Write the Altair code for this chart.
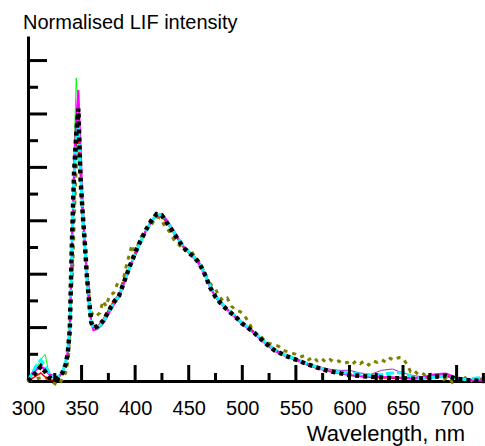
import altair as alt
import pandas as pd

# ---------------- data ----------------
wavelengths = [300, 304, 308, 312, 316, 320, 324, 328, 332, 335, 337, 339, 341, 343, 345,
               347, 349, 351, 353, 355, 357, 359, 361, 365, 370, 375, 380, 385, 390, 395,
               400, 405, 410, 415, 420, 425, 430, 435, 440, 445, 450, 455, 460, 465, 470,
               475, 480, 485, 490, 495, 500, 505, 510, 515, 520, 525, 530, 540, 550, 560,
               570, 580, 590, 600, 610, 620, 630, 640, 650, 660, 670, 680, 690, 700, 710,
               720, 726]

black = [0.0, 0.015, 0.035, 0.055, 0.035, 0.012, 0.007, 0.01, 0.03, 0.06, 0.10, 0.19, 0.52, 0.78, 0.92,
         1.02, 0.76, 0.63, 0.52, 0.39, 0.30, 0.22, 0.20, 0.205, 0.225, 0.26, 0.295, 0.32, 0.375, 0.43,
         0.48, 0.525, 0.565, 0.60, 0.625, 0.62, 0.59, 0.56, 0.53, 0.50, 0.48, 0.465, 0.44, 0.40, 0.35,
         0.315, 0.29, 0.27, 0.253, 0.235, 0.215, 0.20, 0.185, 0.166, 0.147, 0.13, 0.115, 0.095, 0.08, 0.064,
         0.05, 0.038, 0.03, 0.022, 0.019, 0.016, 0.013, 0.011, 0.01, 0.008, 0.01, 0.016, 0.02, 0.008, 0.003,
         0.001, 0.0]

cyan = [0.0, 0.03, 0.06, 0.079, 0.055, 0.03, 0.02, 0.016, 0.03, 0.07, 0.116, 0.20, 0.50, 0.76, 0.90,
        0.95, 0.78, 0.62, 0.51, 0.38, 0.29, 0.22, 0.20, 0.20, 0.22, 0.255, 0.29, 0.32, 0.37, 0.425,
        0.475, 0.52, 0.56, 0.595, 0.625, 0.62, 0.595, 0.565, 0.535, 0.505, 0.485, 0.465, 0.44, 0.40, 0.355,
        0.32, 0.295, 0.272, 0.255, 0.237, 0.218, 0.202, 0.186, 0.168, 0.15, 0.133, 0.118, 0.097, 0.082, 0.066,
        0.052, 0.04, 0.033, 0.03, 0.025, 0.022, 0.025, 0.03, 0.032, 0.012, 0.01, 0.015, 0.018, 0.01, 0.005,
        0.012, 0.01]

magenta = [0.0, 0.03, 0.045, 0.055, 0.045, 0.025, 0.02, 0.016, 0.03, 0.065, 0.11, 0.19, 0.50, 0.80, 0.98,
           1.09, 0.88, 0.66, 0.52, 0.40, 0.30, 0.22, 0.19, 0.195, 0.215, 0.25, 0.285, 0.315, 0.37, 0.425,
           0.475, 0.52, 0.56, 0.595, 0.62, 0.625, 0.60, 0.57, 0.535, 0.505, 0.48, 0.46, 0.435, 0.395, 0.35,
           0.315, 0.29, 0.27, 0.25, 0.232, 0.213, 0.198, 0.182, 0.163, 0.145, 0.128, 0.113, 0.093, 0.078, 0.062,
           0.048, 0.037, 0.03, 0.022, 0.018, 0.015, 0.015, 0.014, 0.012, 0.01, 0.015, 0.025, 0.028, 0.012, 0.006,
           0.004, 0.002]

red = [0.0, 0.01, 0.02, 0.03, 0.015, 0.005, 0.004, 0.01, 0.03, 0.06, 0.10, 0.19, 0.50, 0.74, 0.88,
       0.93, 0.76, 0.62, 0.51, 0.38, 0.29, 0.22, 0.20, 0.205, 0.23, 0.265, 0.30, 0.325, 0.38, 0.43,
       0.48, 0.525, 0.565, 0.60, 0.62, 0.615, 0.59, 0.56, 0.53, 0.50, 0.48, 0.465, 0.44, 0.40, 0.35,
       0.315, 0.29, 0.27, 0.255, 0.236, 0.216, 0.20, 0.186, 0.167, 0.148, 0.131, 0.116, 0.096, 0.08, 0.064,
       0.05, 0.038, 0.03, 0.022, 0.018, 0.015, 0.012, 0.01, 0.01, 0.008, 0.01, 0.015, 0.018, 0.01, 0.004,
       0.002, 0.0]

green = [0.0, 0.02, 0.05, 0.08, 0.10, 0.02, 0.01, 0.008, 0.03, 0.06, 0.10, 0.20, 0.55, 0.85, 1.135,
         1.00, 0.80, 0.64, 0.52, 0.39, 0.30, 0.22, 0.20, 0.20, 0.215, 0.25, 0.285, 0.31, 0.37, 0.425,
         0.475, 0.52, 0.56, 0.595, 0.62, 0.62, 0.59, 0.56, 0.53, 0.50, 0.48, 0.465, 0.44, 0.40, 0.35,
         0.315, 0.29, 0.27, 0.252, 0.234, 0.214, 0.199, 0.184, 0.165, 0.146, 0.129, 0.114, 0.094, 0.079, 0.063,
         0.049, 0.037, 0.029, 0.021, 0.017, 0.014, 0.012, 0.012, 0.01, 0.008, 0.01, 0.014, 0.016, 0.008, 0.003,
         0.001, 0.0]

purple = [0.0, 0.02, 0.04, 0.05, 0.04, 0.02, 0.01, 0.01, 0.03, 0.06, 0.10, 0.19, 0.51, 0.77, 0.93,
          1.00, 0.80, 0.63, 0.52, 0.39, 0.30, 0.22, 0.20, 0.205, 0.225, 0.26, 0.295, 0.32, 0.375, 0.43,
          0.48, 0.525, 0.565, 0.60, 0.625, 0.62, 0.595, 0.565, 0.535, 0.505, 0.485, 0.47, 0.445, 0.405, 0.355,
          0.32, 0.295, 0.275, 0.257, 0.24, 0.22, 0.205, 0.19, 0.17, 0.152, 0.135, 0.12, 0.1, 0.085, 0.068,
          0.055, 0.045, 0.04, 0.04, 0.03, 0.025, 0.04, 0.045, 0.03, 0.02, 0.015, 0.02, 0.022, 0.012, 0.006,
          0.004, 0.002]

olive_wl = [300, 305, 310, 315, 320, 325, 328, 331, 334, 336, 338, 340, 342, 344, 346, 348, 350, 352,
            354, 356, 358, 360, 363, 367, 370, 373, 376, 380, 384, 388, 391, 395, 397, 400, 404, 408,
            412, 416, 420, 424, 428, 432, 436, 439, 443, 447, 451, 455, 459, 463, 467, 471, 475, 478,
            482, 486, 490, 494, 498, 502, 506, 510, 514, 518, 522, 526, 530, 534, 538, 542, 546, 550,
            554, 558, 562, 566, 570, 574, 578, 582, 586, 590, 594, 598, 602, 606, 610, 614, 618, 622,
            626, 630, 634, 638, 642, 646, 650, 654, 657, 660, 664, 668, 672, 676, 680, 684, 688, 692,
            696, 700, 704, 708, 712, 716, 720, 726]
olive = [0.0, 0.005, 0.01, 0.015, 0.005, -0.01, -0.015, 0.0, 0.02, 0.04, 0.10, 0.30, 0.45, 0.70,
         0.88, 0.85, 0.70, 0.55, 0.45, 0.36, 0.28, 0.25, 0.24, 0.255, 0.30, 0.28, 0.32, 0.33, 0.37,
         0.36, 0.42, 0.48, 0.51, 0.47, 0.53, 0.55, 0.58, 0.59, 0.615, 0.61, 0.575, 0.56, 0.53, 0.52,
         0.50, 0.49, 0.495, 0.47, 0.45, 0.42, 0.385, 0.36, 0.345, 0.32, 0.30, 0.31, 0.28, 0.265, 0.26,
         0.245, 0.22, 0.19, 0.17, 0.165, 0.145, 0.14, 0.135, 0.13, 0.115, 0.11, 0.105, 0.10, 0.09,
         0.095, 0.08, 0.09, 0.075, 0.085, 0.07, 0.08, 0.07, 0.075, 0.065, 0.07, 0.06, 0.075, 0.065,
         0.075, 0.06, 0.075, 0.07, 0.08, 0.07, 0.085, 0.078, 0.088, 0.085, 0.06, 0.035, 0.04, 0.025,
         0.03, 0.015, 0.025, 0.01, 0.02, 0.005, 0.015, -0.005, 0.01, 0.0, 0.012, -0.005, 0.008, 0.005,
         0.01]

x_label_values = [300, 350, 400, 450, 500, 550, 600, 650, 700]
x_major_ticks = [350, 400, 450, 500, 550, 600, 650, 700]
x_minor_ticks = [325, 375, 425, 475, 525, 575, 625, 675, 725]
y_major_ticks = [0.2, 0.4, 0.6, 0.8, 1.0, 1.2]
y_minor_ticks = [0.1, 0.3, 0.5, 0.7, 0.9, 1.1]

y_title = "Normalised LIF intensity"
x_title = "Wavelength, nm"

# ---------------- chart ----------------
W, H = 457, 345
FONT = "Liberation Sans"

xscale = alt.Scale(domain=[300, 726.5], nice=False, zero=False)
yscale = alt.Scale(domain=[0, 1.292], nice=False, zero=False)
X = alt.X("wl:Q", scale=xscale,
          axis=alt.Axis(values=x_label_values, title=None, ticks=False, grid=False,
                        domainWidth=3, domainColor="black", labelFontSize=20, labelFont=FONT,
                        labelColor="black", labelPadding=17, labelFlush=False, labelOverlap=False))
Y = alt.Y("v:Q", scale=yscale,
          axis=alt.Axis(labels=False, title=None, ticks=False, grid=False,
                        domainWidth=3, domainColor="black"))


def series(wl, vals, color, width, dash=None):
    df = pd.DataFrame({"wl": wl, "v": vals})
    kw = dict(color=color, strokeWidth=width, clip=False)
    if dash:
        kw["strokeDash"] = dash
    return alt.Chart(df).mark_line(**kw).encode(x=X, y=Y)


layers = [
    series(olive_wl, olive, "#808000", 3, [4, 5]),
    series(wavelengths, green, "#00FF00", 1),
    series(wavelengths, red, "#FF0000", 1.5),
    series(wavelengths, purple, "#9A2BC8", 1),
    series(wavelengths, magenta, "#FF00FF", 2),
    series(wavelengths, cyan, "#00FFFF", 3, [8, 3]),
    series(wavelengths, black, "#000000", 4.5, [4, 4]),
]

def xticks(vals, length):
    return alt.Chart(pd.DataFrame({"wl": vals})).mark_rule(
        color="black", strokeWidth=3).encode(
        x=alt.X("wl:Q", scale=xscale), y=alt.value(H), y2=alt.value(H - length))

def yticks(vals, length):
    return alt.Chart(pd.DataFrame({"v": vals})).mark_rule(
        color="black", strokeWidth=3).encode(
        y=alt.Y("v:Q", scale=yscale), x=alt.value(0), x2=alt.value(length))

ticks = [xticks(x_major_ticks, 16), xticks(x_minor_ticks, 8),
         yticks(y_major_ticks, 19), yticks(y_minor_ticks, 10)]

titles = [
    alt.Chart(pd.DataFrame({"t": [y_title]})).mark_text(
        align="left", baseline="alphabetic", font=FONT, fontSize=20, color="black").encode(
        x=alt.value(-5), y=alt.value(-7), text="t:N"),
    alt.Chart(pd.DataFrame({"t": [x_title]})).mark_text(
        align="right", baseline="alphabetic", font=FONT, fontSize=22, color="black").encode(
        x=alt.value(437), y=alt.value(405), text="t:N"),
]

chart = alt.layer(*layers, *ticks, *titles).properties(
    width=W, height=H,
    autosize=alt.AutoSizeParams(type="none"),
    padding={"left": 28, "top": 36, "right": 0, "bottom": 65},
    background="white",
).configure_view(stroke=None)

chart.save("out.html", embed_options={"renderer": "svg", "actions": False})
